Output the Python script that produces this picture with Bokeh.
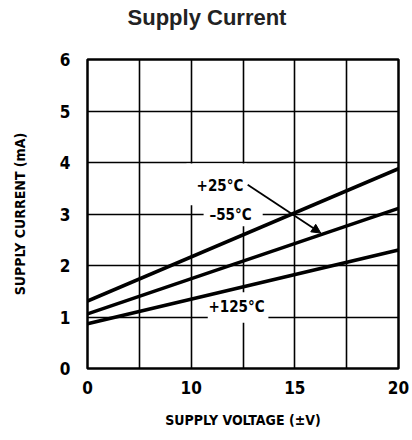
import numpy as np
from bokeh.plotting import figure
from bokeh.layouts import column
from bokeh.models import Range1d, FixedTicker, Label, Arrow, NormalHead, Div
from bokeh.embed import file_html
from bokeh.resources import INLINE

# ---- data ----
voltage = [0, 20]                      # supply voltage (±V)
i_m55 = [1.31, 3.88]                   # -55°C supply current (mA)
i_p25 = [1.06, 3.11]                   # +25°C
i_p125 = [0.87, 2.30]                  # +125°C

# x axis of the datasheet is not linear: grid columns at these voltages
column_volts = [0, 5, 10, 12.5, 15, 17.5, 20]
x_tick_volts = [0, 10, 15, 20]
x_tick_labels = ["0", "10", "15", "20"]
y_ticks = [0, 1, 2, 3, 4, 5, 6]

def xpos(v):
    return list(np.interp(v, column_volts, list(range(len(column_volts)))))

FONT = "DejaVu Sans Condensed"

title = Div(text="Supply Current", width=412, height=36, margin=0,
            styles={"text-align": "center", "font-size": "22px", "font-weight": "bold",
                    "font-family": "Liberation Sans", "color": "#222222",
                    "line-height": "36px", "padding-left": "2px"})

p = figure(output_backend="svg", toolbar_location=None,
           frame_width=311, frame_height=309,
           min_border_left=87, min_border_right=14,
           min_border_top=23, min_border_bottom=70,
           x_range=Range1d(0, 6), y_range=Range1d(0, 6), margin=0)
p.background_fill_color = "white"
p.border_fill_color = "white"
p.outline_line_color = "black"
p.outline_line_width = 2.5

tick_pos = xpos(x_tick_volts)
p.xaxis.ticker = FixedTicker(ticks=tick_pos)
p.xaxis.major_label_overrides = {float(k): v for k, v in zip(tick_pos, x_tick_labels)}
p.yaxis.ticker = FixedTicker(ticks=y_ticks)
for ax in (p.xaxis, p.yaxis):
    ax.axis_line_color = None
    ax.major_tick_line_color = None
    ax.minor_tick_line_color = None
    ax.major_label_text_font = FONT
    ax.major_label_text_font_style = "bold"
    ax.major_label_text_font_size = "17px"
    ax.major_label_text_color = "black"
    ax.axis_label_text_font = FONT
    ax.axis_label_text_font_style = "bold"
    ax.axis_label_text_font_size = "14px"
    ax.axis_label_text_color = "black"
p.xaxis.major_label_standoff = 6
p.yaxis.major_label_standoff = 11
p.xaxis.axis_label = "SUPPLY VOLTAGE (±V)"
p.yaxis.axis_label = "SUPPLY CURRENT (mA)"
p.xaxis.axis_label_standoff = 15
p.yaxis.axis_label_standoff = 29

p.xgrid.ticker = FixedTicker(ticks=list(range(len(column_volts))))
p.ygrid.ticker = FixedTicker(ticks=y_ticks)
for g in (p.xgrid, p.ygrid):
    g.grid_line_color = "black"
    g.grid_line_width = 1.6

# white label backgrounds that interrupt the grid
p.quad(left=[1.91, 2.24, 2.32], right=[3.07, 3.38, 3.49],
       bottom=[3.17, 2.76, 0.89], top=[3.98, 3.24, 1.48],
       fill_color="white", line_color=None)

for ser in (i_m55, i_p25, i_p125):
    p.line(xpos(voltage), ser, line_color="black", line_width=3.6)

p.add_layout(Arrow(end=NormalHead(size=9, fill_color="black", line_color="black"),
                   x_start=3.09, y_start=3.57, x_end=4.50, y_end=2.63,
                   line_color="black", line_width=1.8))

for txt, x, y in (("+25°C", 2.556, 3.55), ("–55°C", 2.76, 2.99), ("+125°C", 2.875, 1.20)):
    p.add_layout(Label(x=x, y=y, text=txt, text_align="center", text_baseline="middle",
                       text_font=FONT, text_font_style="bold", text_font_size="15px",
                       text_color="black"))

layout = column(title, p, spacing=0, margin=0)
open("out.html", "w").write(file_html(layout, INLINE))
